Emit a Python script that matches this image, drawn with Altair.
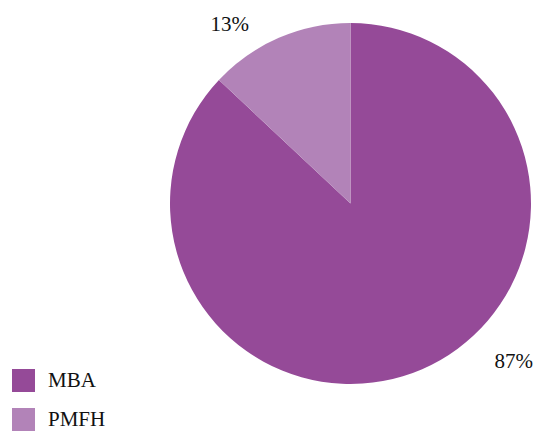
import altair as alt
import pandas as pd

categories = ["MBA", "PMFH"]
shares = [87, 13]
labels = ["87%", "13%"]
colors = ["#954a98", "#b283b8"]

df = pd.DataFrame({"cat": categories, "share": shares, "label": labels, "ord": [0, 1]})

FONT = "Liberation Serif"

base = alt.Chart(df)

pie = base.mark_arc(outerRadius=180.5, stroke=None).encode(
    theta=alt.Theta("share:Q", stack=True),
    order=alt.Order("ord:Q"),
    color=alt.Color(
        "cat:N",
        scale=alt.Scale(domain=categories, range=colors),
        legend=alt.Legend(
            title=None,
            orient="none",
            legendX=4,
            legendY=361,
            symbolType="square",
            symbolSize=529,
            symbolStrokeWidth=0,
            labelFont=FONT,
            labelFontSize=21,
            labelColor="#111111",
            labelOffset=13,
            rowPadding=16,
        ),
    ),
    x=alt.value(342.5),
    y=alt.value(195.5),
)

lbl13 = base.transform_filter(alt.datum.cat == "PMFH").mark_text(
    font=FONT, fontSize=21, color="#111111", align="center", baseline="middle"
).encode(text="label:N", x=alt.value(221.7), y=alt.value(16.5))

lbl87 = base.transform_filter(alt.datum.cat == "MBA").mark_text(
    font=FONT, fontSize=21, color="#111111", align="right", baseline="middle"
).encode(text="label:N", x=alt.value(525), y=alt.value(353.5))

chart = alt.layer(pie, lbl13, lbl87).properties(
    width=526, height=425, autosize="none", padding=0, background="white"
).configure_view(stroke=None, strokeWidth=0)

chart.save("out.html", embed_options={"renderer": "svg", "actions": False})
